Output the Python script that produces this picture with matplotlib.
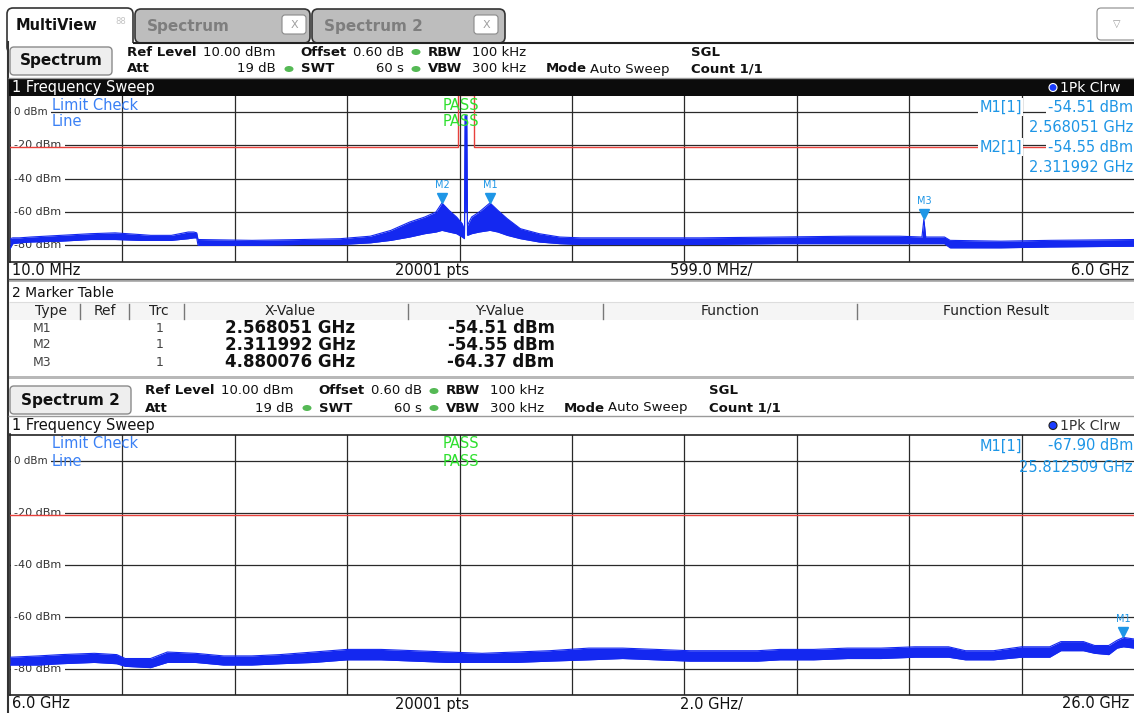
"""
MultiView screen of a spectrum analyser: two frequency sweeps and a marker table.
"""
import matplotlib
matplotlib.use("Agg")
import matplotlib.pyplot as plt
from matplotlib.patches import Rectangle, FancyBboxPatch, Ellipse
from matplotlib.transforms import blended_transform_factory, offset_copy

W, H = 1134, 713

REF_LEVEL = 10.0
GRID_LEVELS = [0, -20, -40, -60, -80]
SWEEP_POINTS = 20001

# sweep 1: 10 MHz .. 6 GHz, trace envelope (MHz, dBm)
sweep1_start, sweep1_stop = 10.0, 6000.0
sweep1_freq = [10, 25, 60, 120, 280, 440, 570, 700, 760, 870, 960, 990, 1005, 1012,
               1300, 1560, 1770, 1930, 2040, 2140, 2220, 2280, 2311.992, 2350, 2390,
               2420, 2432, 2436, 2440, 2444, 2448, 2470, 2510, 2568.051, 2610, 2660,
               2730, 2830, 2940, 3050, 3420, 3690, 4110, 4480, 4750, 4870, 4880.076,
               4890, 4990, 5020, 5290, 5550, 6000]
sweep1_lo = [-82, -79, -78.5, -78, -77.5, -76.5, -76.5, -77, -77, -77, -76, -75.5, -75.5, -80,
             -80, -79.5, -79.5, -78.5, -77, -75, -73, -72, -71, -72, -73,
             -75, -76, -2, -60, -2, -74, -73, -72, -71, -72, -74,
             -76, -78, -79, -79.5, -79.5, -79.5, -79, -79, -79, -79, -79,
             -79, -79, -81.5, -81.5, -81, -80.5]
sweep1_hi = [-76, -75.5, -75.5, -75, -74, -73, -72.5, -73.5, -74, -74, -72, -72, -72.5, -76.5,
             -77, -76.5, -76, -74.5, -71, -66, -63, -60, -54.55, -59, -63,
             -67, -71, -2, -60, -2, -68, -63, -60, -54.51, -59, -64,
             -70, -73, -75, -75.5, -75.5, -75.5, -75, -74.5, -74.5, -75, -64.37,
             -75, -75, -77, -77.5, -77, -76.5]

# limit line of sweep 1 (MHz, dBm), open over the 2.4 GHz band
limit1_freq = [10, 2400, 2400, 2483.5, 2483.5, 6000]
limit1_level = [-21, -21, 10, 10, -21, -21]

markers1_name = ["M1", "M2", "M3"]
markers1_freq = [2.568051, 2.311992, 4.880076]  # GHz
markers1_level = [-54.51, -54.55, -64.37]

# sweep 2: 6 GHz .. 26 GHz, trace envelope (GHz, dBm)
sweep2_start, sweep2_stop = 6.0, 26.0
sweep2_freq = [6.0, 6.5, 6.9, 7.5, 7.9, 8.05, 8.5, 8.8, 9.3, 9.8, 10.3, 10.8, 11.4, 12.0,
               12.6, 13.2, 13.8, 14.4, 15.0, 15.6, 16.3, 16.9, 17.5, 18.1, 18.7, 19.3,
               19.7, 20.3, 20.9, 21.5, 22.1, 22.7, 23.0, 23.5, 24.0, 24.5, 24.7, 25.1,
               25.3, 25.55, 25.7, 25.812509, 26.0]
sweep2_lo = [-78.5, -78.5, -78, -77.5, -78, -79, -79.5, -77.5, -77.5, -78.5, -78.5, -78, -77.5, -76.5,
             -76.5, -77, -77.5, -77.5, -77.5, -77, -76.5, -76, -76.5, -77, -77, -77,
             -76.5, -76.5, -76, -76, -75.5, -75.5, -76.5, -76.5, -75.5, -75.5, -73, -73,
             -74, -74.5, -72, -71.5, -72]
sweep2_hi = [-75.5, -75, -74.5, -74, -74.5, -76, -76, -73.5, -74, -75, -75, -74.5, -73.5, -72.5,
             -72.5, -73, -73.5, -74, -73.5, -73, -72, -72, -72.5, -73, -73, -73,
             -72.5, -72.5, -72, -72, -71.5, -71.5, -73, -73, -71.5, -71.5, -69.5, -69.5,
             -71, -71, -69, -67.9, -68.5]
limit2_level = -21

markers2_name = ["M1"]
markers2_freq = [25.812509]  # GHz
markers2_level = [-67.90]

TRACE = "#1428f0"
MARKER = "#1e96e6"
LIMIT = "#e8413c"
LIMIT_TXT = "#3a80f5"
PASS_TXT = "#2ee02e"
GRID = "#2a2a2a"

fig = plt.figure(figsize=(W / 100, H / 100), dpi=100)
fig.patch.set_facecolor("white")


def sweep_axes(y_top, y_bot, f_start, f_stop):
    ax = fig.add_axes([10 / W, 1 - y_bot / H, (W - 10) / W, (y_bot - y_top) / H], zorder=1)
    ax.set_xlim(f_start, f_stop)
    ax.set_ylim(REF_LEVEL - 100, REF_LEVEL)
    ax.set_xticks([f_start + i * (f_stop - f_start) / 10 for i in range(1, 10)])
    ax.set_yticks(GRID_LEVELS)
    ax.tick_params(length=0, labelbottom=False, labelleft=False)
    ax.set_axisbelow(True)
    ax.grid(True, color=GRID, lw=0.9)
    ax.spines["right"].set_visible(False)
    for side in ("left", "top", "bottom"):
        ax.spines[side].set_color("#222222")
        ax.spines[side].set_linewidth(1.2)
    lab = blended_transform_factory(ax.transAxes, ax.transData)
    for lvl in GRID_LEVELS:
        ax.text(4.5 / (W - 10), lvl, f"{lvl} dBm", transform=lab, ha="left", va="center",
                fontsize=7.5 if lvl == 0 else 8, color="#333333", zorder=2.5,
                bbox=dict(fc="white", ec="none", pad=2.2))
    return ax


def draw_trace(ax, freq, lo, hi):
    ax.fill_between(freq, lo, hi, color=TRACE, lw=0, zorder=3)
    ax.plot(freq, hi, color=TRACE, lw=0.8, zorder=3)
    ax.plot(freq, lo, color=TRACE, lw=0.8, zorder=3)


def draw_markers(ax, names, freq, level):
    tri = offset_copy(ax.transData, fig=fig, y=5, units="dots")
    lab = offset_copy(ax.transData, fig=fig, y=18, units="dots")
    for n, f, l in zip(names, freq, level):
        ax.plot([f], [l], marker="v", ms=7, color=MARKER, transform=tri, zorder=4, clip_on=False)
        ax.text(f, l, n, transform=lab, ha="center", va="center", fontsize=7,
                color=MARKER, zorder=4, clip_on=False)


# ---- sweep 1
ax1 = sweep_axes(95.5, 262, sweep1_start, sweep1_stop)
ax1.plot(limit1_freq, limit1_level, color=LIMIT, lw=1, zorder=2.8)
draw_trace(ax1, sweep1_freq, sweep1_lo, sweep1_hi)
draw_markers(ax1, markers1_name, [f * 1000 for f in markers1_freq], markers1_level)

# ---- sweep 2
ax2 = sweep_axes(434.5, 695, sweep2_start, sweep2_stop)
ax2.axhline(limit2_level, color=LIMIT, lw=1, zorder=2.8)
draw_trace(ax2, sweep2_freq, sweep2_lo, sweep2_hi)
draw_markers(ax2, markers2_name, markers2_freq, markers2_level)

# ---- screen furniture in pixel coordinates
ui = fig.add_axes([0, 0, 1, 1], zorder=10)
ui.set_xlim(0, W)
ui.set_ylim(H, 0)
ui.axis("off")


def put(x, y, s, size=9.5, weight="normal", color="#111111", ha="left", **kw):
    ui.text(x, y, s, fontsize=size, fontweight=weight, color=color, ha=ha, va="center", **kw)


def dot(x, y, color="#55b955"):
    ui.add_patch(Ellipse((x, y), 9, 6, color=color, lw=0))


def hline(y, x0=8, x1=W, color="#333333", lw=1.0):
    ui.plot([x0, x1], [y, y], color=color, lw=lw, solid_capstyle="butt")


# tab bar
ui.add_patch(FancyBboxPatch((7, 8), 126, 45, boxstyle="round,pad=0,rounding_size=6",
                            fc="white", ec="#333333", lw=1.2))
for x0, w, name, xclose in [(135, 175, "Spectrum", 282), (312, 193, "Spectrum 2", 474)]:
    ui.add_patch(FancyBboxPatch((x0, 9), w, 34, boxstyle="round,pad=0,rounding_size=6",
                                fc="#bdbdbd", ec="#333333", lw=1.2))
    put(x0 + 12, 26, name, size=11, weight="bold", color="#7e7e7e")
    ui.add_patch(FancyBboxPatch((xclose, 15), 24, 19, boxstyle="round,pad=0,rounding_size=3",
                                fc="white", ec="#8a8a8a", lw=0.8))
    put(xclose + 12, 24.5, "X", size=8, color="#a0a0a0", ha="center")
put(16, 25, "MultiView", size=10.5, weight="bold")
put(121, 22, "88", size=6, color="#c4c4c4", ha="center")
ui.add_patch(FancyBboxPatch((1097, 8), 42, 32, boxstyle="round,pad=0,rounding_size=4",
                            fc="white", ec="#8a8a8a", lw=0.8))
put(1117, 24, "\u25bd", size=7, color="#9a9a9a", ha="center")
ui.add_patch(Rectangle((8, 43), W - 8, 36, fc="white", ec="none"))
hline(42.5, 133, W, color="#222222", lw=1.5)

# left panel border
ui.plot([8, 8], [42, H], color="#333333", lw=1.5)


def header(y0, dx, button):
    bw = 102 if button == "Spectrum" else 121
    ui.add_patch(FancyBboxPatch((10, y0 + 4), bw, 28, boxstyle="round,pad=0,rounding_size=4",
                                fc="#eeeeee", ec="#8a8a8a", lw=1))
    put(10 + bw / 2, y0 + 18, button, size=11, weight="bold", ha="center")
    r1, r2 = y0 + 9, y0 + 26
    put(127 + dx, r1, "Ref Level", weight="bold")
    put(203 + dx, r1, f"{REF_LEVEL:.2f} dBm")
    put(300 + dx, r1, "Offset", weight="bold")
    put(353 + dx, r1, "0.60 dB")
    dot(416 + dx, r1)
    put(428 + dx, r1, "RBW", weight="bold")
    put(472 + dx, r1, "100 kHz")
    put(691 + dx, r1, "SGL", weight="bold")
    put(127 + dx, r2, "Att", weight="bold")
    put(276 + dx, r2, "19 dB", ha="right")
    dot(289 + dx, r2)
    put(301 + dx, r2, "SWT", weight="bold")
    put(404 + dx, r2, "60 s", ha="right")
    dot(416 + dx, r2)
    put(428 + dx, r2, "VBW", weight="bold")
    put(472 + dx, r2, "300 kHz")
    put(546 + dx, r2, "Mode", weight="bold")
    put(590 + dx, r2, "Auto Sweep")
    put(691 + dx, r2, "Count 1/1", weight="bold")


header(43, 0, "Spectrum")
hline(78, color="#9a9a9a")

# title bar of sweep 1
ui.add_patch(Rectangle((8, 79), W - 8, 16.5, fc="#0c0c0c", ec="none"))
put(12, 87.5, "1 Frequency Sweep", size=10.5, color="white")
ui.add_patch(Ellipse((1053, 87.5), 8, 8, fc="#1a3cff", ec="white", lw=0.8))
put(1060, 87.5, "1Pk Clrw", size=10, color="white")

# limit check and marker readout of sweep 1
put(52, 105, "Limit Check", size=10.5, color=LIMIT_TXT)
put(52, 122, "Line", size=10.5, color=LIMIT_TXT)
put(461, 105, "PASS", size=10.5, color=PASS_TXT, ha="center")
put(461, 122, "PASS", size=10.5, color=PASS_TXT, ha="center")
box = dict(fc="white", ec="none", pad=1.0)
for i, (n, f, l) in enumerate(zip(markers1_name[:2], markers1_freq[:2], markers1_level[:2])):
    y = 107 + i * 40
    put(1022, y, f"{n}[1]", size=10.5, color=MARKER, ha="right", bbox=box)
    put(1133, y, f"{l:.2f} dBm", size=10.5, color=MARKER, ha="right", bbox=box)
    put(1133, y + 21, f"{f:.6f} GHz", size=10.5, color=MARKER, ha="right", bbox=box)

# frequency axis row of sweep 1
put(12, 270.5, f"{sweep1_start:.1f} MHz", size=10.5)
put(432, 270.5, f"{SWEEP_POINTS} pts", size=10.5, ha="center")
put(711, 270.5, f"{(sweep1_stop - sweep1_start) / 10:.1f} MHz/", size=10.5, ha="center")
put(1129, 270.5, f"{sweep1_stop / 1000:.1f} GHz", size=10.5, ha="right")
ui.add_patch(Rectangle((8, 278.5), W - 8, 3.5, fc="#b4b4b4", ec="none"))
hline(278.5, color="#555555", lw=1)

# marker table
put(12, 293, "2 Marker Table", size=10)
ui.add_patch(Rectangle((9, 302), W - 9, 18, fc="#f5f5f5", ec="none"))
hline(302, 9, W, color="#dddddd", lw=0.8)
for x, s in [(51, "Type"), (105, "Ref"), (159, "Trc"), (290, "X-Value"), (500, "Y-Value"),
             (730, "Function"), (996, "Function Result")]:
    put(x, 311, s, size=10, color="#222222", ha="center")
for x in (80, 129, 184, 408, 603, 857):
    ui.plot([x, x], [304, 319], color="#777777", lw=1)
for i, (n, f, l) in enumerate(zip(markers1_name, markers1_freq, markers1_level)):
    y = 328 + i * 17
    put(33, y, n, size=9, color="#444444")
    put(160, y, "1", size=9, color="#444444", ha="center")
    put(290, y, f"{f:.6f} GHz", size=12, weight="bold", ha="center")
    put(501, y, f"{l:.2f} dBm", size=12, weight="bold", ha="center")
ui.add_patch(Rectangle((8, 376), W - 8, 3, fc="#b8b8b8", ec="none"))

# sweep 2 header and title row
header(382, 18, "Spectrum 2")
hline(416, color="#9a9a9a")
put(12, 425.5, "1 Frequency Sweep", size=10.5)
ui.add_patch(Ellipse((1053, 425.5), 8, 8, fc="#1a3cff", ec="#222222", lw=0.8))
put(1060, 425.5, "1Pk Clrw", size=10, color="#333333")

put(52, 444, "Limit Check", size=10.5, color=LIMIT_TXT)
put(52, 461, "Line", size=10.5, color=LIMIT_TXT)
put(461, 443, "PASS", size=10.5, color=PASS_TXT, ha="center")
put(461, 461, "PASS", size=10.5, color=PASS_TXT, ha="center")
for n, f, l in zip(markers2_name, markers2_freq, markers2_level):
    put(1022, 446, f"{n}[1]", size=10.5, color=MARKER, ha="right")
    put(1133, 446, f"{l:.2f} dBm", size=10.5, color=MARKER, ha="right")
    put(1133, 467, f"{f:.6f} GHz", size=10.5, color=MARKER, ha="right")

# frequency axis row of sweep 2
put(12, 704, f"{sweep2_start:.1f} GHz", size=10.5)
put(432, 704, f"{SWEEP_POINTS} pts", size=10.5, ha="center")
put(711, 704, f"{(sweep2_stop - sweep2_start) / 10:.1f} GHz/", size=10.5, ha="center")
put(1129, 704, f"{sweep2_stop:.1f} GHz", size=10.5, ha="right")

fig.savefig("out.png", dpi=100)
